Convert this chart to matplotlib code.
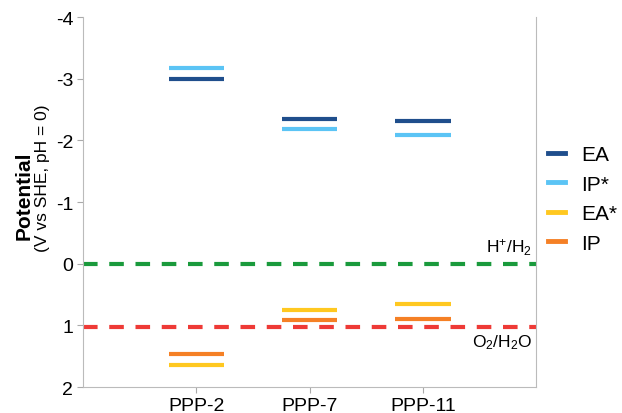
import numpy as np
import matplotlib
matplotlib.use('Agg')
import matplotlib.pyplot as plt
from matplotlib.lines import Line2D

plt.rcParams['font.family'] = ['Liberation Sans', 'DejaVu Sans']
plt.rcParams['mathtext.fontset'] = 'custom'
plt.rcParams['mathtext.rm'] = 'Liberation Sans'
plt.rcParams['mathtext.it'] = 'Liberation Sans'
plt.rcParams['axes.unicode_minus'] = False

# data (potential vs SHE, V)
polymers = ['PPP-2', 'PPP-7', 'PPP-11']
ea = [-3.00, -2.35, -2.31]
ip_star = [-3.17, -2.18, -2.08]
ea_star = [1.64, 0.75, 0.65]
ip = [1.46, 0.91, 0.89]
h2_level = 0.0
o2_level = 1.03

series = [
    ('EA', ea, '#1f4e8c'),
    ('IP*', ip_star, '#5bc4f5'),
    ('EA*', ea_star, '#ffc820'),
    ('IP', ip, '#f58025'),
]

fig = plt.figure(figsize=(6.22, 4.14), dpi=100)
ax = fig.add_axes([0.1334, 0.0628, 0.7286, 0.8937])

x = np.arange(1, len(polymers) + 1)
half = 0.245
for name, vals, col in series:
    ax.hlines(vals, x - half, x + half, colors=col, linewidth=3)

ax.axhline(h2_level, color='#1a9a3c', linewidth=3, linestyle=(0, (3.5, 2.8)))
ax.axhline(o2_level, color='#ee3a36', linewidth=3, linestyle=(0, (3.5, 2.8)))

ax.text(3.96, h2_level - 0.11, r'H$^{+}$/H$_{2}$', ha='right', va='bottom', fontsize=12.5)
ax.text(3.97, o2_level + 0.08, r'O$_{2}$/H$_{2}$O', ha='right', va='top', fontsize=12.5)

ax.set_xlim(0, 4)
ax.set_ylim(2, -4)
ax.set_yticks(range(-4, 3))
ax.set_xticks(x)
ax.set_xticklabels(polymers)
ax.tick_params(axis='both', labelsize=14, color='#aaaaaa', length=4)
ax.tick_params(axis='y', pad=3)

for s in ['left', 'bottom', 'right']:
    ax.spines[s].set_color('#bbbbbb')
ax.spines['top'].set_visible(False)

fig.text(0.038, 0.527, 'Potential', rotation=90, ha='center', va='center',
         fontsize=15, fontweight='bold')
fig.text(0.069, 0.57, '(V vs SHE, pH = 0)', rotation=90, ha='center', va='center',
         fontsize=12.5)

handles = [Line2D([0], [0], color=c, linewidth=3.5) for _, _, c in series]
fig.legend(handles, [n for n, _, _ in series], loc='center left',
           bbox_to_anchor=(0.881, 0.517), frameon=False, fontsize=15,
           borderpad=0, borderaxespad=0,
           handlelength=0.8, handletextpad=0.8, labelspacing=0.5)

fig.savefig('out.png', dpi=100)
